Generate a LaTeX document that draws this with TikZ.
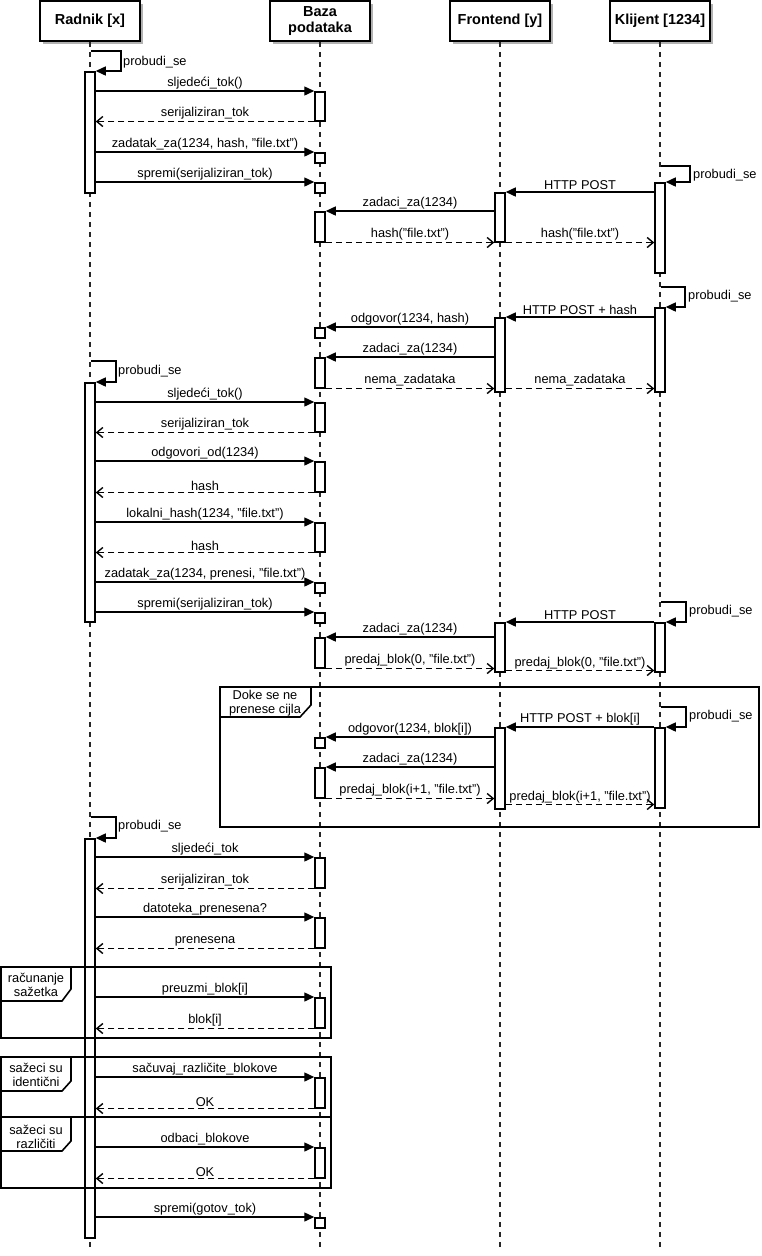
\documentclass[tikz,border=0pt]{standalone}
\usepackage{fontspec}
\setmainfont{Liberation Sans}
\usetikzlibrary{arrows.meta,shadows,calc}
\begin{document}
\begin{tikzpicture}[x=1pt,y=-1pt,
  hdr/.style={draw, fill=white, line width=1.6pt, minimum width=100pt, minimum height=40pt, inner sep=0pt, align=center,
    font=\fontsize{14.5}{16}\selectfont\bfseries,
    drop shadow={shadow xshift=3pt, shadow yshift=-3pt, fill=black!30, opacity=1}},
  life/.style={line width=1.3pt, dash pattern=on 5pt off 5pt, black!85},
  bar/.style={draw, fill=white, line width=1.5pt, minimum width=10pt, inner sep=0pt, anchor=north},
  lbl/.style={font=\fontsize{12.8}{13.5}\selectfont, inner sep=1pt},
  msg/.style={line width=1.4pt, -{Triangle[length=10pt,width=9pt]}},
  ret/.style={line width=1.4pt, dash pattern=on 6pt off 4pt, -{Straight Barb[length=6pt,width=10pt]}},
  frm/.style={draw, line width=1.6pt},
  tabbox/.style={draw, fill=white, line width=1.6pt}
]
\useasboundingbox (0,0) rectangle (762,1256);

% ---------- headers ----------
\node[hdr] (hR) at (90,21) {Radnik [x]};
\node[hdr] (hD) at (320,21) {Baza\\podataka};
\node[hdr] (hF) at (500,21) {Frontend [y]};
\node[hdr] (hK) at (660,21) {Klijent [1234]};

% ---------- lifelines ----------
\coordinate (eR) at (90,1248);
\coordinate (eD) at (320,1248);
\coordinate (eF) at (500,1248);
\coordinate (eK) at (660,1248);
\draw[life] (hR.south) -- (eR);
\draw[life] (hD.south) -- (eD);
\draw[life] (hF.south) -- (eF);
\draw[life] (hK.south) -- (eK);

% ---------- activation bars ----------
% Radnik
\node[bar, minimum height=121pt] (rb1) at (90,71) {};
\node[bar, minimum height=239pt] (rb2) at (90,382) {};
\node[bar, minimum height=399pt] (rb3) at (90,838) {};
% Baza
\node[bar, minimum height=29pt] (db1) at (320,91) {};
\node[bar, minimum height=10pt] (db2) at (320,152) {};
\node[bar, minimum height=10pt] (db3) at (320,182) {};
\node[bar, minimum height=30pt] (db4) at (320,211) {};
\node[bar, minimum height=10pt] (db5) at (320,327) {};
\node[bar, minimum height=30pt] (db6) at (320,357) {};
\node[bar, minimum height=29pt] (db7) at (320,402) {};
\node[bar, minimum height=30pt] (db8) at (320,461) {};
\node[bar, minimum height=29pt] (db9) at (320,522) {};
\node[bar, minimum height=10pt] (db10) at (320,582) {};
\node[bar, minimum height=10pt] (db11) at (320,612) {};
\node[bar, minimum height=30pt] (db12) at (320,637) {};
\node[bar, minimum height=10pt] (db13) at (320,737) {};
\node[bar, minimum height=30pt] (db14) at (320,767) {};
\node[bar, minimum height=30pt] (db15) at (320,857) {};
\node[bar, minimum height=30pt] (db16) at (320,917) {};
\node[bar, minimum height=30pt] (db17) at (320,997) {};
\node[bar, minimum height=30pt] (db18) at (320,1077) {};
\node[bar, minimum height=30pt] (db19) at (320,1147) {};
\node[bar, minimum height=10pt] (db20) at (320,1217) {};
% Frontend
\node[bar, minimum height=49pt] (fb1) at (500,192) {};
\node[bar, minimum height=74pt] (fb2) at (500,317) {};
\node[bar, minimum height=49pt] (fb3) at (500,622) {};
\node[bar, minimum height=81pt] (fb4) at (500,727) {};
% Klijent
\node[bar, minimum height=90pt] (kb1) at (660,182) {};
\node[bar, minimum height=84pt] (kb2) at (660,307) {};
\node[bar, minimum height=49pt] (kb3) at (660,622) {};
\node[bar, minimum height=80pt] (kb4) at (660,727) {};

% ---------- self messages (probudi_se) ----------
\coordinate (sR1) at (91,51);
\coordinate (sR2) at (91,361);
\coordinate (sR3) at (91,817);
\coordinate (sK1) at (661,166);
\coordinate (sK2) at (661,287);
\coordinate (sK3) at (661,602);
\coordinate (sK4) at (661,707);
\draw[msg] (sR1) -- ++(30,0) |- (rb1.north east);
\draw[msg] (sR2) -- ++(25,0) |- (rb2.north east);
\draw[msg] (sR3) -- ++(25,0) |- (rb3.north east);
\draw[msg] (sK1) -- ++(29,0) |- (kb1.north east);
\draw[msg] (sK2) -- ++(24,0) |- (kb2.north east);
\draw[msg] (sK3) -- ++(25,0) |- (kb3.north east);
\draw[msg] (sK4) -- ++(25,0) |- (kb4.north east);
\node[lbl, anchor=west] (pR1) at (122,62) {probudi\_se};
\node[lbl, anchor=west] (pR2) at (117,371) {probudi\_se};
\node[lbl, anchor=west] (pR3) at (117,826) {probudi\_se};
\node[lbl, anchor=west] (pK1) at (692,175) {probudi\_se};
\node[lbl, anchor=west] (pK2) at (687,296) {probudi\_se};
\node[lbl, anchor=west] (pK3) at (688,611) {probudi\_se};
\node[lbl, anchor=west] (pK4) at (688,716) {probudi\_se};

% ---------- section 1 ----------
\draw[msg] (rb1.east |- db1.north west) -- (db1.north west) node[lbl,midway,above=0.5pt] {sljedeći\_tok()};
\draw[ret] (db1.south west) -- (rb1.east |- db1.south west) node[lbl,midway,above=0.5pt] {serijaliziran\_tok};
\draw[msg] (rb1.east |- db2.north west) -- (db2.north west) node[lbl,midway,above=0.5pt] {zadatak\_za(1234, hash, "file.txt")};
\draw[msg] (rb1.east |- db3.north west) -- (db3.north west) node[lbl,midway,above=0.5pt] {spremi(serijaliziran\_tok)};
\draw[msg] (kb1.west |- fb1.north east) -- (fb1.north east) node[lbl,midway,above=0.5pt] {HTTP POST};
\draw[msg] (fb1.west |- db4.north east) -- (db4.north east) node[lbl,midway,above=0.5pt] {zadaci\_za(1234)};
\draw[ret] (db4.south east) -- (fb1.west |- db4.south east) node[lbl,midway,above=0.5pt] {hash("file.txt")};
\draw[ret] (fb1.south east) -- (kb1.west |- fb1.south east) node[lbl,midway,above=0.5pt] {hash("file.txt")};

% ---------- section 2 ----------
\draw[msg] (kb2.west |- fb2.north east) -- (fb2.north east) node[lbl,midway,above=0.5pt] {HTTP POST + hash};
\draw[msg] (fb2.west |- db5.north east) -- (db5.north east) node[lbl,midway,above=0.5pt] {odgovor(1234, hash)};
\draw[msg] (fb2.west |- db6.north east) -- (db6.north east) node[lbl,midway,above=0.5pt] {zadaci\_za(1234)};
\draw[ret] (db6.south east) -- (fb2.west |- db6.south east) node[lbl,midway,above=0.5pt] {nema\_zadataka};
\draw[ret] (fb2.east |- db6.south east) -- (kb2.west |- db6.south east) node[lbl,midway,above=0.5pt] {nema\_zadataka};

% ---------- section 3 ----------
\draw[msg] (rb2.east |- db7.north west) -- (db7.north west) node[lbl,midway,above=0.5pt] {sljedeći\_tok()};
\draw[ret] (db7.south west) -- (rb2.east |- db7.south west) node[lbl,midway,above=0.5pt] {serijaliziran\_tok};
\draw[msg] (rb2.east |- db8.north west) -- (db8.north west) node[lbl,midway,above=0.5pt] {odgovori\_od(1234)};
\draw[ret] (db8.south west) -- (rb2.east |- db8.south west) node[lbl,midway,above=0.5pt] {hash};
\draw[msg] (rb2.east |- db9.north west) -- (db9.north west) node[lbl,midway,above=0.5pt] {lokalni\_hash(1234, "file.txt")};
\draw[ret] (db9.south west) -- (rb2.east |- db9.south west) node[lbl,midway,above=0.5pt] {hash};
\draw[msg] (rb2.east |- db10.north west) -- (db10.north west) node[lbl,midway,above=0.5pt] {zadatak\_za(1234, prenesi, "file.txt")};
\draw[msg] (rb2.east |- db11.north west) -- (db11.north west) node[lbl,midway,above=0.5pt] {spremi(serijaliziran\_tok)};

% ---------- section 4 ----------
\draw[msg] (kb3.north west) -- (fb3.north east) node[lbl,midway,above=0.5pt] {HTTP POST};
\draw[msg] (fb3.west |- db12.north east) -- (db12.north east) node[lbl,midway,above=0.5pt] {zadaci\_za(1234)};
\draw[ret] (db12.south east) -- (fb3.west |- db12.south east) node[lbl,midway,above=0.5pt] {predaj\_blok(0, "file.txt")};
\coordinate (p25) at ($(fb3.south east)+(0,-2)$);
\draw[ret] (p25) -- (kb3.west |- p25) node[lbl,midway,above=0pt] {predaj\_blok(0, "file.txt")};

% ---------- loop ----------
\draw[msg] (kb4.north west) -- (fb4.north east) node[lbl,midway,above=0.5pt] {HTTP POST + blok[i]};
\draw[msg] (fb4.west |- db13.north east) -- (db13.north east) node[lbl,midway,above=0.5pt] {odgovor(1234, blok[i])};
\draw[msg] (fb4.west |- db14.north east) -- (db14.north east) node[lbl,midway,above=0.5pt] {zadaci\_za(1234)};
\draw[ret] (db14.south east) -- (fb4.west |- db14.south east) node[lbl,midway,above=0.5pt] {predaj\_blok(i+1, "file.txt")};
\coordinate (p30) at ($(fb4.south east)+(0,-5)$);
\draw[ret] (p30) -- (kb4.west |- p30) node[lbl,midway,above=0pt] {predaj\_blok(i+1, "file.txt")};

% ---------- section 5 ----------
\draw[msg] (rb3.east |- db15.north west) -- (db15.north west) node[lbl,midway,above=0.5pt] {sljedeći\_tok};
\draw[ret] (db15.south west) -- (rb3.east |- db15.south west) node[lbl,midway,above=0.5pt] {serijaliziran\_tok};
\draw[msg] (rb3.east |- db16.north west) -- (db16.north west) node[lbl,midway,above=0.5pt] {datoteka\_prenesena?};
\draw[ret] (db16.south west) -- (rb3.east |- db16.south west) node[lbl,midway,above=0.5pt] {prenesena};
\draw[msg] (rb3.east |- db17.north west) -- (db17.north west) node[lbl,midway,above=0.5pt] {preuzmi\_blok[i]};
\draw[ret] (db17.south west) -- (rb3.east |- db17.south west) node[lbl,midway,above=0.5pt] {blok[i]};
\draw[msg] (rb3.east |- db18.north west) -- (db18.north west) node[lbl,midway,above=0.5pt] {sačuvaj\_različite\_blokove};
\draw[ret] (db18.south west) -- (rb3.east |- db18.south west) node[lbl,midway,above=0.5pt] {OK};
\draw[msg] (rb3.east |- db19.north west) -- (db19.north west) node[lbl,midway,above=0.5pt] {odbaci\_blokove};
\draw[ret] (db19.south west) -- (rb3.east |- db19.south west) node[lbl,midway,above=0.5pt] {OK};
\draw[msg] (rb3.east |- db20.north west) -- (db20.north west) node[lbl,midway,above=0.5pt] {spremi(gotov\_tok)};

% ---------- frames ----------
\draw[frm] (220,687) rectangle (759,827);
\draw[tabbox] (220,687) -- (311,687) -- (311,705) -- (300,717) -- (220,717) -- cycle;
\node[lbl, align=center] (tLoop) at (265,703) {Doke se ne\\prenese cijla};

\draw[frm] (1,967) rectangle (331,1038);
\draw[tabbox] (1,967) -- (71,967) -- (71,989) -- (62,1001) -- (1,1001) -- cycle;
\node[lbl, align=center] (tRac) at (36,985) {računanje\\sažetka};

\draw[frm] (1,1057) rectangle (331,1117);
\draw[tabbox] (1,1057) -- (71,1057) -- (71,1081) -- (62,1091) -- (1,1091) -- cycle;
\node[lbl, align=center] (tId) at (36,1075) {sažeci su\\identični};

\draw[frm] (1,1117) rectangle (331,1188);
\draw[tabbox] (1,1117) -- (71,1117) -- (71,1141) -- (62,1151) -- (1,1151) -- cycle;
\node[lbl, align=center] (tRaz) at (36,1137) {sažeci su\\različiti};

\end{tikzpicture}
\end{document}
